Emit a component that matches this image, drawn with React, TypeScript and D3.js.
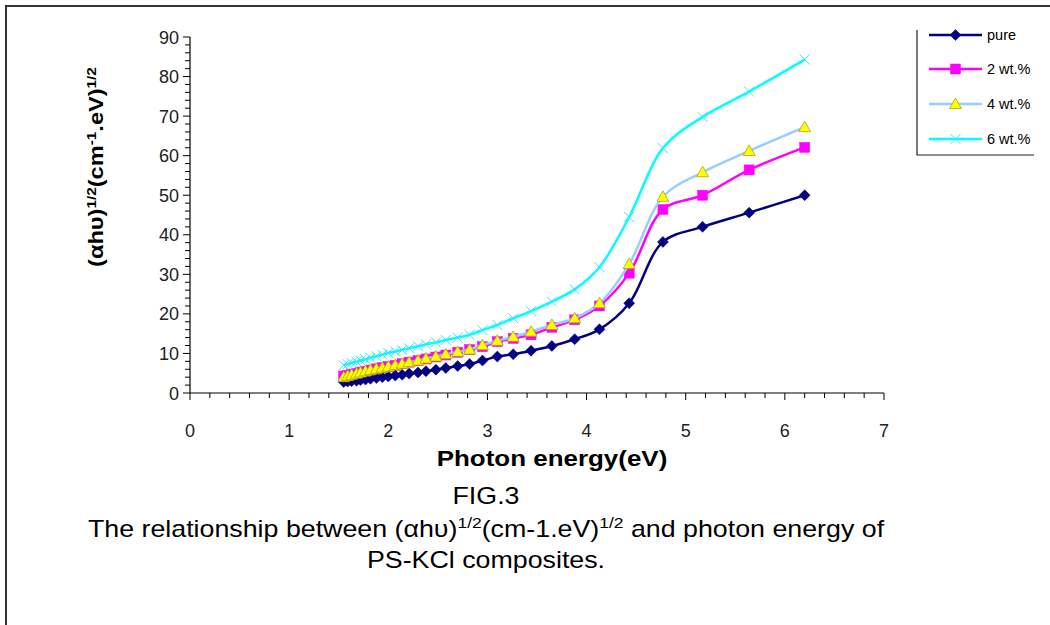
import React from "react";
import * as d3 from "d3";

const energy = [1.55, 1.59, 1.63, 1.68, 1.72, 1.77, 1.82, 1.88, 1.94, 2.0, 2.07, 2.14, 2.21, 2.3, 2.38, 2.48, 2.58, 2.7, 2.82, 2.95, 3.1, 3.26, 3.44, 3.65, 3.88, 4.13, 4.43, 4.77, 5.17, 5.64, 6.2];
const pure = [2.8, 2.9, 3.0, 3.1, 3.3, 3.4, 3.6, 3.8, 4.0, 4.2, 4.4, 4.6, 4.9, 5.2, 5.5, 5.9, 6.3, 6.8, 7.3, 8.2, 9.2, 9.8, 10.7, 11.9, 13.6, 16.1, 22.7, 38.2, 42.0, 45.6, 50.0];
const wt2 = [4.3, 4.5, 4.8, 5.0, 5.3, 5.5, 5.8, 6.1, 6.4, 6.7, 7.0, 7.4, 7.8, 8.2, 8.6, 9.1, 9.6, 10.3, 11.0, 11.7, 13.0, 13.8, 14.7, 16.6, 18.5, 22.0, 30.3, 46.4, 50.0, 56.4, 62.1];
const wt4 = [4.0, 4.3, 4.6, 4.9, 5.2, 5.5, 5.8, 6.1, 6.4, 6.7, 7.0, 7.4, 7.8, 8.2, 8.7, 9.2, 9.8, 10.4, 11.0, 12.1, 13.2, 14.2, 15.5, 17.2, 18.9, 22.7, 32.6, 49.6, 55.8, 61.2, 67.2];
const wt6 = [7.0, 7.3, 7.6, 7.9, 8.2, 8.5, 8.9, 9.3, 9.7, 10.1, 10.5, 10.9, 11.3, 11.8, 12.3, 12.8, 13.4, 14.0, 14.7, 15.9, 17.2, 18.9, 20.7, 23.1, 26.2, 31.8, 44.5, 61.9, 69.8, 76.2, 84.3];

const seriesNames = ["pure", "2 wt.%", "4 wt.%", "6 wt.%"];
const xTicks = [0, 1, 2, 3, 4, 5, 6, 7];
const yTicks = [0, 10, 20, 30, 40, 50, 60, 70, 80, 90];

const FONT = "Liberation Sans, Arial, sans-serif";

type Kind = "diamond" | "square" | "triangle" | "x";
const styles: { line: string; fill: string; stroke: string; kind: Kind }[] = [
  { line: "#000080", fill: "#000080", stroke: "#000080", kind: "diamond" },
  { line: "#FF00FF", fill: "#FF00FF", stroke: "#FF00FF", kind: "square" },
  { line: "#99CCFF", fill: "#FFFF00", stroke: "#A8A800", kind: "triangle" },
  { line: "#00FFFF", fill: "none", stroke: "#33E6FF", kind: "x" },
];

function Marker({ kind, cx, cy, fill, stroke }: { kind: Kind; cx: number; cy: number; fill: string; stroke: string }) {
  if (kind === "diamond") {
    const s = 5.5;
    return <path d={`M${cx},${cy - s}L${cx + s},${cy}L${cx},${cy + s}L${cx - s},${cy}Z`} fill={fill} stroke={stroke} strokeWidth={0.5} />;
  }
  if (kind === "square") {
    const s = 5;
    return <rect x={cx - s} y={cy - s} width={2 * s} height={2 * s} fill={fill} stroke={stroke} strokeWidth={0.5} />;
  }
  if (kind === "triangle") {
    const s = 6;
    return <path d={`M${cx},${cy - s}L${cx + s},${cy + s * 0.75}L${cx - s},${cy + s * 0.75}Z`} fill={fill} stroke={stroke} strokeWidth={0.8} />;
  }
  const s = 5;
  return <path d={`M${cx - s},${cy - s}L${cx + s},${cy + s}M${cx - s},${cy + s}L${cx + s},${cy - s}`} fill="none" stroke={stroke} strokeWidth={1} />;
}

export default function App() {
  const x = d3.scaleLinear().domain([0, 7]).range([190, 884]);
  const y = d3.scaleLinear().domain([0, 90]).range([393, 37]);
  const allSeries = [pure, wt2, wt4, wt6];
  const line = d3
    .line<[number, number]>()
    .x((d) => x(d[0]))
    .y((d) => y(d[1]))
    .curve(d3.curveCatmullRom.alpha(0.5));

  const xMinor = d3.range(0, 35 + 1).map((i) => i * 0.2);
  const yMinor = d3.range(0, 45 + 1).map((i) => i * 2);

  const legendY = [35, 69, 104, 139];

  return (
    <svg width={1050} height={625} style={{ position: "absolute", left: 0, top: 0, background: "#fff" }} fontFamily={FONT}>
      <rect x={0} y={0} width={1050} height={625} fill="#fff" />
      {/* outer frame */}
      <path d="M6,625L6,6L1050,6" fill="none" stroke="#333" strokeWidth={2} />
      {/* legend box */}
      <path d="M917,30L917,155L1034,155" fill="none" stroke="#222" strokeWidth={1.2} />

      {/* axes */}
      <line x1={x(0)} x2={x(7)} y1={y(0)} y2={y(0)} stroke="#000" strokeWidth={1.2} />
      <line x1={x(0)} x2={x(0)} y1={y(0)} y2={y(90)} stroke="#000" strokeWidth={1.2} />
      {xMinor.map((t, i) => (
        <line key={"xm" + i} x1={x(t)} x2={x(t)} y1={y(0)} y2={y(0) + (i % 5 === 0 ? 7 : 5)} stroke="#000" strokeWidth={1} />
      ))}
      {yMinor.map((t, i) => (
        <line key={"ym" + i} x1={x(0) - (i % 5 === 0 ? 7 : 5)} x2={x(0)} y1={y(t)} y2={y(t)} stroke="#000" strokeWidth={1} />
      ))}
      {xTicks.map((t) => (
        <text key={"xt" + t} x={x(t)} y={437} textAnchor="middle" fontSize={18} fill="#222">
          {t}
        </text>
      ))}
      {yTicks.map((t) => (
        <text key={"yt" + t} x={179} y={y(t) + 6.5} textAnchor="end" fontSize={18} fill="#222">
          {t}
        </text>
      ))}

      {/* axis titles */}
      <text transform="translate(552,466) scale(1.18,1)" x={0} y={0} textAnchor="middle" fontSize={22} fontWeight="bold" fill="#000">
        Photon energy(eV)
      </text>
      <text transform="translate(103,167) rotate(-90) scale(1.18,1)" textAnchor="middle" fontSize={20} fontWeight="bold" fill="#000">
        (αhυ)
        <tspan fontSize={13} dy={-7}>1/2</tspan>
        <tspan dy={7}>(cm</tspan>
        <tspan fontSize={13} dy={-7}>-1</tspan>
        <tspan dy={7}>.eV)</tspan>
        <tspan fontSize={13} dy={-7}>1/2</tspan>
      </text>

      {/* series */}
      {allSeries.map((vals, si) => {
        const pts: [number, number][] = energy.map((e, i) => [e, vals[i]]);
        const st = styles[si];
        return (
          <g key={"s" + si}>
            <path d={line(pts) || ""} fill="none" stroke={st.line} strokeWidth={2.5} />
            {pts.map((p, i) => (
              <Marker key={i} kind={st.kind} cx={x(p[0])} cy={y(p[1])} fill={st.fill} stroke={st.stroke} />
            ))}
          </g>
        );
      })}

      {/* legend */}
      {seriesNames.map((n, i) => {
        const st = styles[i];
        return (
          <g key={"lg" + i}>
            <line x1={929} x2={982} y1={legendY[i]} y2={legendY[i]} stroke={st.line} strokeWidth={2.5} />
            <Marker kind={st.kind} cx={955.5} cy={legendY[i]} fill={st.fill} stroke={st.stroke} />
            <text x={987} y={legendY[i] + 5} fontSize={14.5} fill="#000">
              {n}
            </text>
          </g>
        );
      })}

      {/* caption */}
      <g transform="translate(486,0) scale(1.165,1)">
        <text x={0} y={504} textAnchor="middle" fontSize={23} fill="#000">
          FIG.3
        </text>
        <text x={0} y={537} textAnchor="middle" fontSize={23} fill="#000">
          The relationship between (αhυ)
          <tspan fontSize={15} dy={-9}>1/2</tspan>
          <tspan dy={9}>(cm-1.eV)</tspan>
          <tspan fontSize={15} dy={-9}>1/2</tspan>
          <tspan dy={9}> and photon energy of</tspan>
        </text>
        <text x={0} y={568} textAnchor="middle" fontSize={23} fill="#000">
          PS-KCl composites.
        </text>
      </g>
    </svg>
  );
}
